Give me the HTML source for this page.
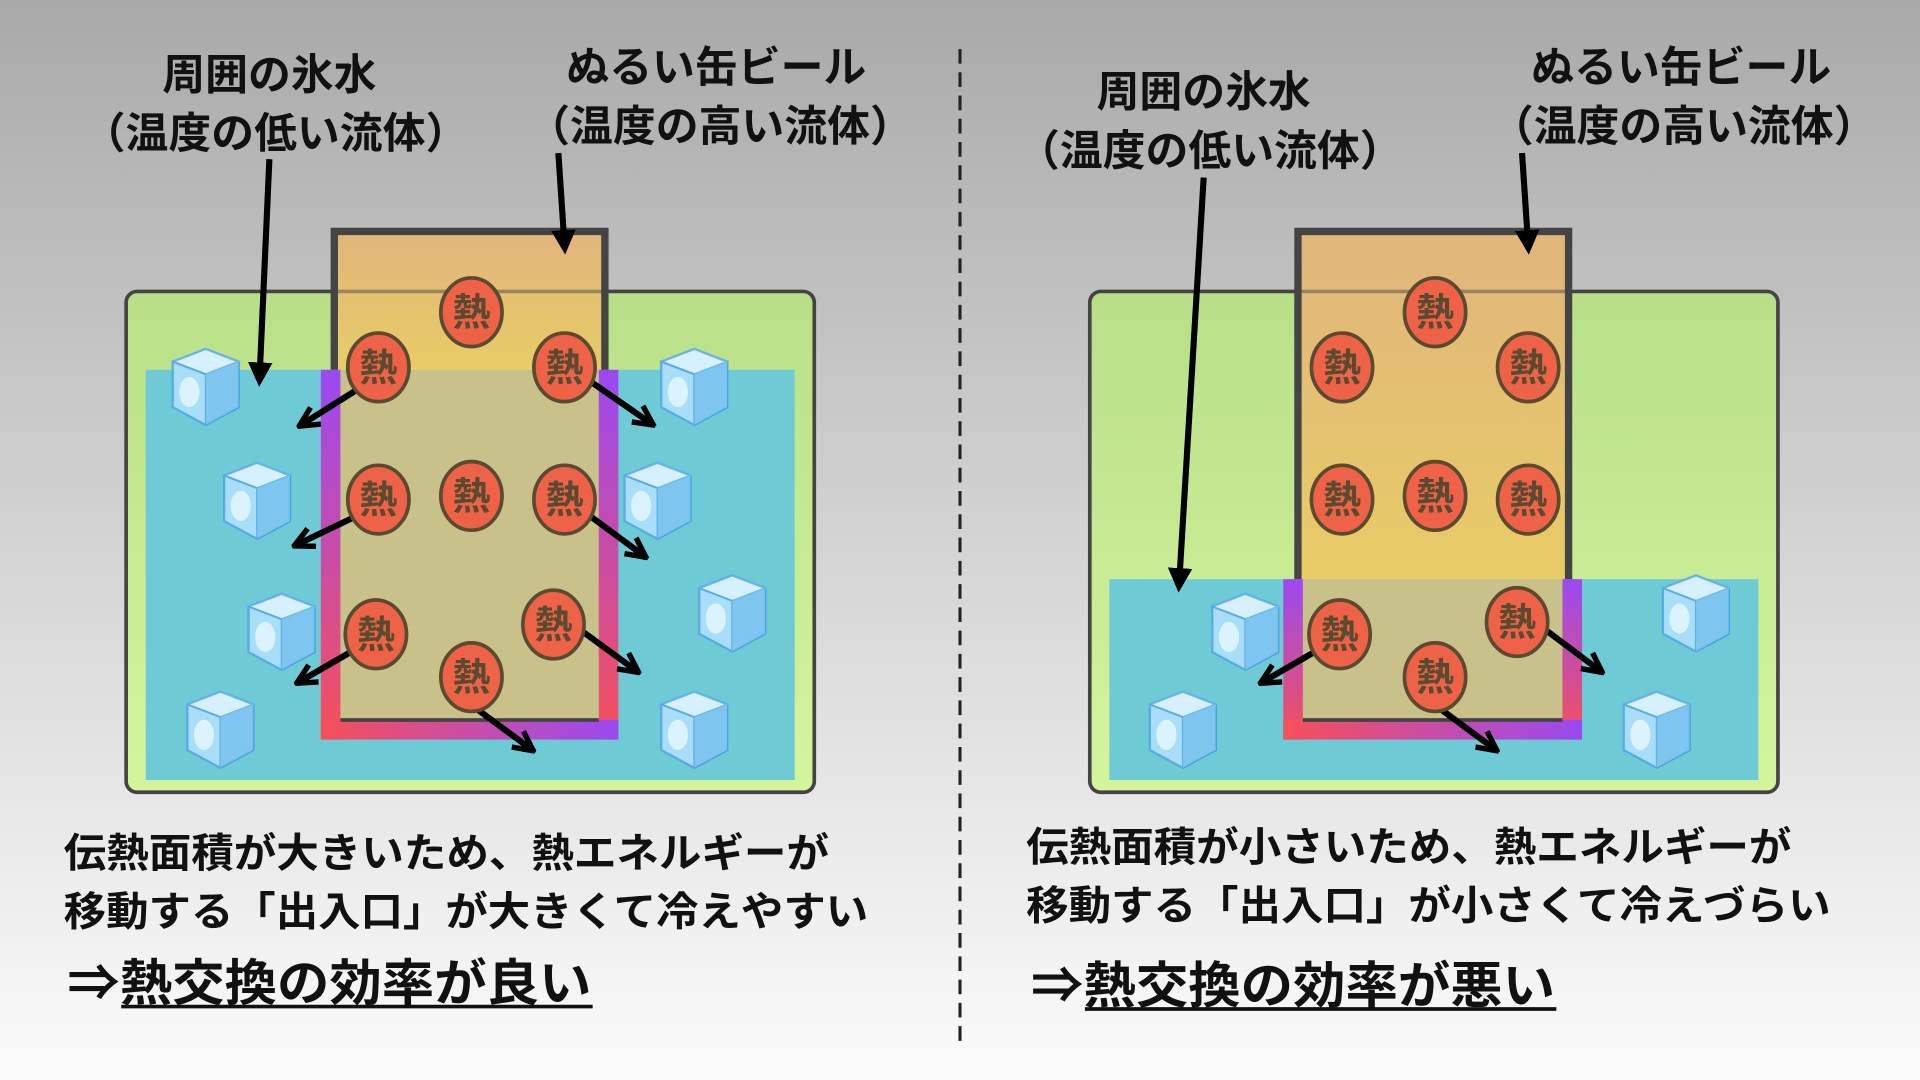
<!DOCTYPE html>
<html><head><meta charset="utf-8"><style>
html,body{margin:0;padding:0;width:1920px;height:1080px;overflow:hidden}
svg{display:block}
text{font-family:"Liberation Sans","Noto Sans CJK JP",sans-serif;font-weight:bold;fill:#111}
</style></head><body>
<svg width="1920" height="1080" viewBox="0 0 1568 882" xmlns="http://www.w3.org/2000/svg">
<defs>
<linearGradient id="bg" x1="0" y1="0" x2="0" y2="1"><stop offset="0" stop-color="#a9a9a9"/><stop offset="0.6" stop-color="#dcdcdc"/><stop offset="1" stop-color="#fbfbfb"/></linearGradient>
<linearGradient id="grn" x1="0" y1="0" x2="0" y2="1"><stop offset="0" stop-color="#b8df88"/><stop offset="1" stop-color="#d5f59d"/></linearGradient>
<linearGradient id="can" x1="0" y1="0" x2="0" y2="1"><stop offset="0" stop-color="#e0b57c"/><stop offset="1" stop-color="#e8cc66"/></linearGradient>
<linearGradient id="vbar" x1="0" y1="0" x2="0" y2="1"><stop offset="0" stop-color="#9a4af2"/><stop offset="1" stop-color="#f6505a"/></linearGradient>
<linearGradient id="hbar" x1="0" y1="0" x2="1" y2="0"><stop offset="0" stop-color="#f6505a"/><stop offset="1" stop-color="#9a4af2"/></linearGradient>
<marker id="ah" viewBox="0 0 10 10" refX="6" refY="5" markerWidth="4" markerHeight="4" orient="auto"><path d="M0,0 L10,5 L0,10 Z" fill="#000"/></marker>
<marker id="ao" viewBox="0 0 10 10" refX="8" refY="5" markerWidth="4" markerHeight="4" orient="auto"><path d="M1,1 L9,5 L1,9" fill="none" stroke="#000" stroke-width="2.2"/></marker>
<symbol id="ice" viewBox="0 0 60 64">
<path d="M30,2 L56,12 L56,48 L30,62 L4,48 L4,12 Z" fill="#8fd0f5" stroke="#4a9ee0" stroke-width="2"/>
<path d="M30,2 L56,12 L30,22 L4,12 Z" fill="#d6f0ff" stroke="#6ab4ea" stroke-width="1.5"/>
<path d="M4,12 L30,22 L30,62 L4,48 Z" fill="#a8def9" stroke="#5aaae6" stroke-width="1.5"/>
<ellipse cx="17" cy="36" rx="8" ry="12" fill="#e6f7ff" opacity="0.8"/>
<path d="M30,22 L56,12 L56,48 L30,62 Z" fill="#7cc4f0" opacity="0.9"/>
</symbol>
<symbol id="heat" viewBox="-27 -30 54 60">
<ellipse cx="0" cy="0" rx="25" ry="28" fill="#ee6347" stroke="#5a4a30" stroke-width="3"/>
<text x="0" y="11" text-anchor="middle" font-size="31" style="fill:#5a4a30">熱</text>
</symbol>
</defs>
<rect width="1568" height="882" fill="url(#bg)"/>
<line x1="784" y1="40" x2="784" y2="852" stroke="#222" stroke-width="2.5" stroke-dasharray="12,7"/>

<!-- LEFT -->
<rect x="103" y="238" width="562" height="409" rx="9" fill="url(#grn)" stroke="#444" stroke-width="3"/>
<rect x="119" y="302" width="530" height="335" fill="#6ecbd6"/>
<rect x="273" y="189" width="221" height="113" fill="url(#can)"/>
<rect x="273" y="302" width="221" height="286" fill="#c9c18a"/>
<line x1="273" y1="238" x2="494" y2="238" stroke="#444" stroke-width="3" opacity="0.45"/>
<rect x="262" y="302" width="16" height="302" fill="url(#vbar)"/>
<rect x="489" y="302" width="16" height="302" fill="url(#vbar)"/>
<rect x="262" y="588" width="243" height="16" fill="url(#hbar)"/>
<path d="M273,302 L273,189 L494,189 L494,302" fill="none" stroke="#444" stroke-width="6"/>
<line x1="278" y1="588" x2="489" y2="588" stroke="#444" stroke-width="3"/>
<use href="#ice" x="137" y="283" width="62" height="66"/>
<use href="#ice" x="179" y="376" width="62" height="66"/>
<use href="#ice" x="199" y="483" width="62" height="66"/>
<use href="#ice" x="149" y="563" width="62" height="66"/>
<use href="#ice" x="536" y="283" width="62" height="66"/>
<use href="#ice" x="506" y="376" width="62" height="66"/>
<use href="#ice" x="567" y="468" width="62" height="66"/>
<use href="#ice" x="536" y="563" width="62" height="66"/>
<g stroke="#000" stroke-width="5" fill="none" marker-end="url(#ao)">
<line x1="292" y1="318" x2="246" y2="347"/>
<line x1="290" y1="422" x2="242" y2="445"/>
<line x1="289" y1="531" x2="244" y2="557"/>
<line x1="480" y1="310" x2="532" y2="346"/>
<line x1="480" y1="420" x2="526" y2="454"/>
<line x1="472" y1="513" x2="520" y2="548"/>
<line x1="388" y1="578" x2="434" y2="612"/>
</g>
<use href="#heat" x="358" y="225" width="54" height="60"/>
<use href="#heat" x="282" y="270" width="54" height="60"/>
<use href="#heat" x="434" y="270" width="54" height="60"/>
<use href="#heat" x="282" y="378" width="54" height="60"/>
<use href="#heat" x="358" y="375" width="54" height="60"/>
<use href="#heat" x="434" y="378" width="54" height="60"/>
<use href="#heat" x="280" y="488" width="54" height="60"/>
<use href="#heat" x="425" y="480" width="54" height="60"/>
<use href="#heat" x="358" y="523" width="54" height="60"/>
<g stroke="#000" stroke-width="5" marker-end="url(#ah)">
<line x1="220" y1="130" x2="212" y2="308"/>
<line x1="456" y1="125" x2="461" y2="200"/>
</g>
<text x="220" y="73" text-anchor="middle" font-size="35">周囲の氷水</text>
<text x="225" y="121" text-anchor="middle" font-size="35">（温度の低い流体）</text>
<text x="585" y="67" text-anchor="middle" font-size="35">ぬるい缶ビール</text>
<text x="588" y="115" text-anchor="middle" font-size="35">（温度の高い流体）</text>
<text x="52" y="708" font-size="33" textLength="625" lengthAdjust="spacingAndGlyphs">伝熱面積が大きいため、熱エネルギーが</text>
<text x="52" y="756" font-size="33" textLength="657" lengthAdjust="spacingAndGlyphs">移動する「出入口」が大きくて冷えやすい</text>
<text x="55" y="817" font-size="41" textLength="428" lengthAdjust="spacingAndGlyphs">⇒熱交換の効率が良い</text>
<line x1="99" y1="822" x2="484" y2="822" stroke="#111" stroke-width="3"/>

<!-- RIGHT -->
<rect x="890" y="238" width="562" height="409" rx="9" fill="url(#grn)" stroke="#444" stroke-width="3"/>
<rect x="906" y="473" width="530" height="164" fill="#6ecbd6"/>
<rect x="1060" y="189" width="221" height="284" fill="url(#can)"/>
<rect x="1060" y="473" width="221" height="115" fill="#c9c18a"/>
<line x1="1060" y1="238" x2="1281" y2="238" stroke="#444" stroke-width="3" opacity="0.45"/>
<rect x="1048" y="473" width="16" height="131" fill="url(#vbar)"/>
<rect x="1276" y="473" width="16" height="131" fill="url(#vbar)"/>
<rect x="1048" y="588" width="244" height="16" fill="url(#hbar)"/>
<path d="M1060,473 L1060,189 L1281,189 L1281,473" fill="none" stroke="#444" stroke-width="6"/>
<line x1="1064" y1="588" x2="1276" y2="588" stroke="#444" stroke-width="3"/>
<use href="#ice" x="986" y="483" width="62" height="66"/>
<use href="#ice" x="935" y="563" width="62" height="66"/>
<use href="#ice" x="1354" y="468" width="62" height="66"/>
<use href="#ice" x="1322" y="563" width="62" height="66"/>
<g stroke="#000" stroke-width="5" fill="none" marker-end="url(#ao)">
<line x1="1076" y1="531" x2="1031" y2="557"/>
<line x1="1259" y1="512" x2="1307" y2="548"/>
<line x1="1175" y1="578" x2="1221" y2="612"/>
</g>
<use href="#heat" x="1145" y="225" width="54" height="60"/>
<use href="#heat" x="1069" y="270" width="54" height="60"/>
<use href="#heat" x="1221" y="270" width="54" height="60"/>
<use href="#heat" x="1069" y="378" width="54" height="60"/>
<use href="#heat" x="1145" y="375" width="54" height="60"/>
<use href="#heat" x="1221" y="378" width="54" height="60"/>
<use href="#heat" x="1067" y="488" width="54" height="60"/>
<use href="#heat" x="1212" y="478" width="54" height="60"/>
<use href="#heat" x="1145" y="523" width="54" height="60"/>
<g stroke="#000" stroke-width="5" marker-end="url(#ah)">
<line x1="983" y1="145" x2="963" y2="476"/>
<line x1="1243" y1="125" x2="1248" y2="200"/>
</g>
<text x="983" y="87" text-anchor="middle" font-size="35">周囲の氷水</text>
<text x="988" y="135" text-anchor="middle" font-size="35">（温度の低い流体）</text>
<text x="1373" y="67" text-anchor="middle" font-size="35">ぬるい缶ビール</text>
<text x="1375" y="115" text-anchor="middle" font-size="35">（温度の高い流体）</text>
<text x="838" y="703" font-size="33" textLength="625" lengthAdjust="spacingAndGlyphs">伝熱面積が小さいため、熱エネルギーが</text>
<text x="838" y="751" font-size="33" textLength="657" lengthAdjust="spacingAndGlyphs">移動する「出入口」が小さくて冷えづらい</text>
<text x="842" y="819" font-size="41" textLength="428" lengthAdjust="spacingAndGlyphs">⇒熱交換の効率が悪い</text>
<line x1="886" y1="824" x2="1271" y2="824" stroke="#111" stroke-width="3"/>
</svg>
</body></html>
